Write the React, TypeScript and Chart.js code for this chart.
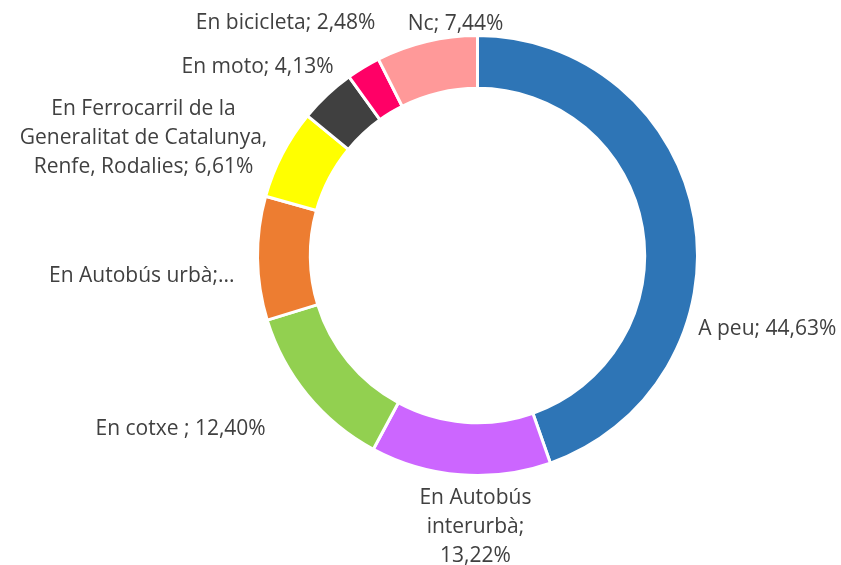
import React, { useEffect, useRef } from "react";
import { Chart, registerables } from "chart.js";

Chart.register(...registerables);

const categories = [
  "A peu",
  "En Autobús interurbà",
  "En cotxe ",
  "En Autobús urbà",
  "En Ferrocarril de la Generalitat de Catalunya, Renfe, Rodalies",
  "En moto",
  "En bicicleta",
  "Nc",
];
const values = [44.63, 13.22, 12.4, 9.09, 6.61, 4.13, 2.48, 7.44];
const colors = ["#2E75B6", "#CC66FF", "#92D050", "#ED7D31", "#FFFF00", "#404040", "#FF0066", "#FF9999"];

const fmt = (v: number) => v.toFixed(2).replace(".", ",") + "%";

const labelLines: string[][] = [
  [`${categories[0]}; ${fmt(values[0])}`],
  ["En Autobús", "interurbà;", fmt(values[1])],
  [`${categories[2]}; ${fmt(values[2])}`],
  ["En Autobús urbà;..."],
  ["En Ferrocarril de la", "Generalitat de Catalunya,", `Renfe, Rodalies; ${fmt(values[4])}`],
  [`${categories[5]}; ${fmt(values[5])}`],
  [`${categories[6]}; ${fmt(values[6])}`],
  [`${categories[7]}; ${fmt(values[7])}`],
];

// label placement nudges (layout, px) relative to the arc-computed anchor
const labelNudge: [number, number][] = [
  [-3, 113],
  [20, 5],
  [-55, 22],
  [-15, 17],
  [-22, 6],
  [-12, -15],
  [-27, -29],
  [42, 0],
];

const FONT = "21px 'Open Sans'";
const LINE_H = 29;

const labelPlugin = {
  id: "outerLabels",
  afterDraw(chart: any) {
    const ctx = chart.ctx;
    const meta = chart.getDatasetMeta(0);
    ctx.save();
    ctx.font = FONT;
    ctx.fillStyle = "#404040";
    ctx.textAlign = "center";
    ctx.textBaseline = "middle";
    meta.data.forEach((arc: any, i: number) => {
      const p = arc.getProps(["x", "y", "startAngle", "endAngle", "outerRadius"], true);
      const mid = (p.startAngle + p.endAngle) / 2;
      const dx = Math.cos(mid);
      const dy = Math.sin(mid);
      const r = p.outerRadius + 8;
      const ax = p.x + r * dx;
      const ay = p.y + r * dy;
      const lines = labelLines[i];
      const w = Math.max(...lines.map((l) => ctx.measureText(l).width));
      const h = (lines.length - 1) * LINE_H + 20;
      const cx = ax + (dx * w) / 2 + labelNudge[i][0];
      const cy = ay + (dy * h) / 2 + labelNudge[i][1];
      lines.forEach((l, j) => {
        const ly = cy + (j - (lines.length - 1) / 2) * LINE_H;
        ctx.fillText(l, cx, ly);
      });
    });
    ctx.restore();
  },
};

export default function App() {
  const ref = useRef<HTMLCanvasElement>(null);
  useEffect(() => {
    document.body.style.margin = "0";
    const chart = new Chart(ref.current!, {
      type: "doughnut",
      data: {
        labels: categories,
        datasets: [
          {
            data: values,
            backgroundColor: colors,
            borderColor: "#FFFFFF",
            borderWidth: 3,
          },
        ],
      },
      options: {
        animation: false,
        responsive: false,
        maintainAspectRatio: false,
        cutout: "76%",
        layout: { padding: { left: 256, right: 142, top: 34, bottom: 88 } },
        plugins: { legend: { display: false }, tooltip: { enabled: false } },
      },
      plugins: [labelPlugin],
    });
    return () => chart.destroy();
  }, []);
  return (
    <div style={{ width: 841, height: 565, background: "#fff" }}>
      <canvas ref={ref} width={841} height={565} />
    </div>
  );
}
